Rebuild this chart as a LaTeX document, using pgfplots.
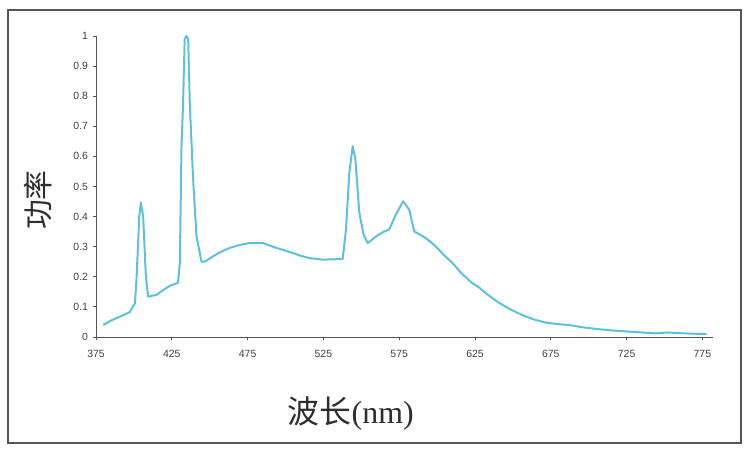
\documentclass[border=0pt]{standalone}
\usepackage{fontspec}
\setmainfont{Liberation Sans}
\newfontfamily\cjk{Noto Sans CJK SC}
\newfontfamily\serif{Liberation Serif}
\usepackage{pgfplots}
\pgfplotsset{compat=1.18}
\definecolor{specblue}{RGB}{95,192,222}
\definecolor{axgray}{RGB}{85,85,85}
\begin{document}
\begin{tikzpicture}[x=1bp,y=1bp]
  \path (0,0) rectangle (749,450);
  \draw[line width=2bp, axgray] (8,7) rectangle (741,440);
  \begin{axis}[
    at={(96bp,113bp)}, anchor=origin,
    scale only axis,
    width=617bp, height=301bp,
    xmin=375, xmax=782,
    ymin=0, ymax=1,
    axis x line=bottom, axis y line=left,
    axis line style={-, axgray, line width=0.9bp},
    tick style={axgray, line width=0.8bp},
    tick align=outside,
    major tick length=3.5bp,
    xtick={375,425,...,775},
    ytick={0,0.1,0.2,0.3,0.4,0.5,0.6,0.7,0.8,0.9,1},
    /pgf/number format/assume math mode=true,
    /pgf/number format/fixed,
    ticklabel style={font=\fontsize{10.5}{11}\selectfont, text=black!75},
    xticklabel style={yshift=-6bp},
    yticklabel style={xshift=-1bp},
    xlabel={{\cjk 波长}{\serif(nm)}},
    xlabel style={font=\fontsize{32}{34}\selectfont, text=black!82, at={(axis description cs:0.413,-0.253)}, anchor=center},
    ylabel={\cjk 功率},
    ylabel style={font=\fontsize{30}{32}\selectfont, text=black!82, at={(axis description cs:-0.094,0.455)}, anchor=center, rotate=0},
    clip=false,
  ]
    \addplot[specblue, line width=2bp, line join=round] coordinates {
      (379.8,0.040) (385,0.055) (390,0.066) (395,0.077) (397.4,0.084)
      (400.7,0.112) (401.8,0.200) (403.5,0.400) (404.6,0.447)
      (406.1,0.400) (407.9,0.200) (409.4,0.134) (414.9,0.140)
      (420,0.158) (423.7,0.170) (429.1,0.180) (430.3,0.245)
      (431.4,0.634) (432.4,0.770) (433.5,0.990) (434.7,1.000)
      (435.8,0.990) (436.9,0.770) (439.1,0.520) (441.3,0.334)
      (444.6,0.250) (446.7,0.250) (452.2,0.268) (457,0.282)
      (463.2,0.296) (470,0.306) (476.3,0.312) (485.1,0.312)
      (493.9,0.296) (498,0.290) (504.8,0.279) (510,0.270) (515.8,0.262)
      (524.6,0.257) (531,0.258) (537.7,0.259) (539.9,0.357)
      (542.1,0.546) (544.3,0.634) (546.1,0.590) (548.7,0.412)
      (551.5,0.340) (554.2,0.312) (559.7,0.334) (564,0.348) (568.4,0.357)
      (572.8,0.407) (577.6,0.451) (581.6,0.423) (584.9,0.351)
      (592.5,0.329) (599.1,0.301) (605,0.270) (610.1,0.246) (616,0.212)
      (623.2,0.179) (627.6,0.165) (633,0.142) (639.6,0.118)
      (647,0.095) (656.1,0.073) (664,0.058) (671.5,0.048)
      (679,0.043) (686.8,0.040) (695,0.033) (704.4,0.027)
      (715,0.022) (726.3,0.018) (735,0.015) (743.9,0.012)
      (752,0.015) (759.2,0.013) (768,0.011) (777.8,0.010)
    };
  \end{axis}
\end{tikzpicture}
\end{document}
